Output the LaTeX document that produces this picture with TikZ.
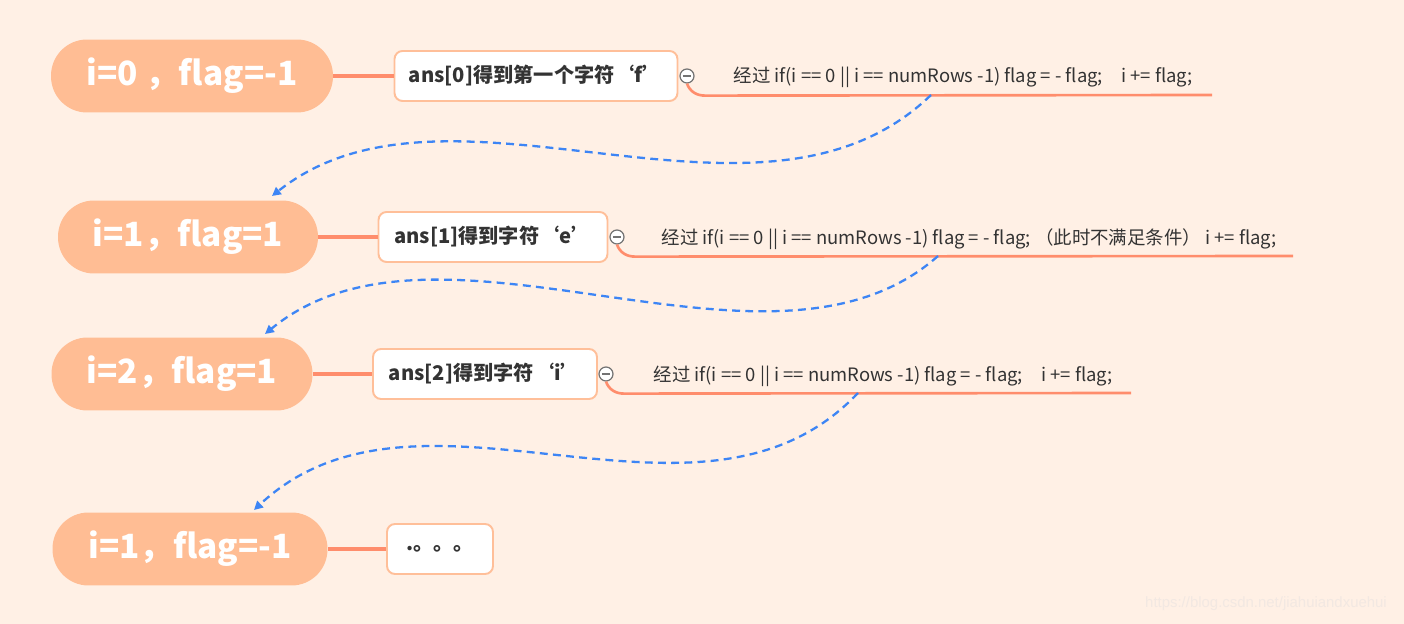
\documentclass[tikz,border=0pt]{standalone}
\usepackage{fontspec}
\setmainfont{Noto Sans CJK SC}
\newfontfamily\wmfont{Liberation Sans}
\usetikzlibrary{arrows.meta}
\definecolor{paper}{RGB}{255,240,229}
\definecolor{peach}{RGB}{255,189,148}
\definecolor{salmon}{RGB}{255,141,108}
\definecolor{edgec}{RGB}{255,191,153}
\definecolor{hopc}{RGB}{61,133,245}
\definecolor{wmark}{RGB}{242,232,226}

\begin{document}
\begin{tikzpicture}[x=0.02cm, y=-0.02cm,
  root/.style={fill=peach, rounded corners=0.72cm, minimum height=1.46cm,
               text=white, font=\fontsize{19}{22}\selectfont\bfseries, inner sep=0pt},
  ansbox/.style={draw=edgec, fill=white, line width=1.1pt, rounded corners=0.16cm,
               minimum height=1cm, text=black!80,
               font=\fontsize{11.5}{13}\selectfont\bfseries, inner sep=0pt},
  knob/.style={circle, draw=black!55, fill=white, line width=0.7pt,
               minimum size=0.28cm, inner sep=0pt,
               path picture={\draw[black!55, line width=0.7pt]
                 ([xshift=1.6pt]path picture bounding box.west) --
                 ([xshift=-1.6pt]path picture bounding box.east);}},
  leaf/.style={text=black!80, font=\fontsize{10.5}{12}\selectfont, inner sep=0pt},
  link/.style={salmon, line width=2pt},
  branch/.style={salmon, line width=1.5pt},
  hop/.style={hopc, dashed, dash pattern=on 4.5pt off 3pt, line width=1.3pt,
              -{Triangle[length=5pt, width=5pt]}},
]
\fill[paper] (0,0) rectangle (1404,624);
% row 0
\node[root, minimum width=5.64cm] (r1) at (192,76) {i=0 ，flag=-1};
\node[ansbox, minimum width=5.66cm] (b1) at (536,76) {ans[0]得到第一个字符‘f’};
\node[knob] (c1) at (687,76) {};
\node[leaf] (t1) at (963,77) {经过 if(i == 0 || i == numRows -1) flag = - flag;\hspace{1em}i += flag;};
\coordinate (e1) at (1212,95);
% row 1
\node[root, minimum width=5.2cm] (r2) at (188,237) {i=1，flag=1};
\node[ansbox, minimum width=4.58cm] (b2) at (493,237) {ans[1]得到字符‘e’};
\node[knob] (c2) at (617,237) {};
\node[leaf] (t2) at (969,239) {经过 if(i == 0 || i == numRows -1) flag = - flag;~（此时不满足条件）~i += flag;};
\coordinate (e2) at (1293,256);
% row 2
\node[root, minimum width=5.22cm] (r3) at (182,374) {i=2，flag=1};
\node[ansbox, minimum width=4.48cm] (b3) at (485,374) {ans[2]得到字符‘i’};
\node[knob] (c3) at (606,374) {};
\node[leaf] (t3) at (883,376) {经过 if(i == 0 || i == numRows -1) flag = - flag;\hspace{1em}i += flag;};
\coordinate (e3) at (1131,393);
% row 3
\node[root, minimum width=5.5cm] (r4) at (190,549) {i=1，flag=-1};
\node[ansbox, minimum width=2.12cm] (b4) at (440,549) {.。。。};

\draw[link] (r1) -- (b1);
\draw[link] (r2) -- (b2);
\draw[link] (r3) -- (b3);
\draw[link] (r4) -- (b4);
\draw[branch] (c1.south) to[out=-70,in=180] ++(18,12) -- (e1);
\draw[branch] (c2.south) to[out=-70,in=180] ++(18,12) -- (e2);
\draw[branch] (c3.south) to[out=-70,in=180] ++(18,12) -- (e3);

% jumps to the next row
\coordinate (s1) at (931,95);
\coordinate (a2) at (272,196);
\coordinate (s2) at (938,256);
\coordinate (a3) at (265,334);
\coordinate (s3) at (858,393);
\coordinate (a4) at (254,510);
\draw[hop] (s1) .. controls (760,260) and (450,55) .. (a2);
\draw[hop] (s2) .. controls (770,405) and (440,190) .. (a3);
\draw[hop] (s3) .. controls (700,560) and (420,355) .. (a4);

\node[text=wmark, font=\wmfont\fontsize{8.5}{10}\selectfont] (wm) at (1266,604) {https://blog.csdn.net/jiahuiandxuehui};
\end{tikzpicture}
\end{document}
